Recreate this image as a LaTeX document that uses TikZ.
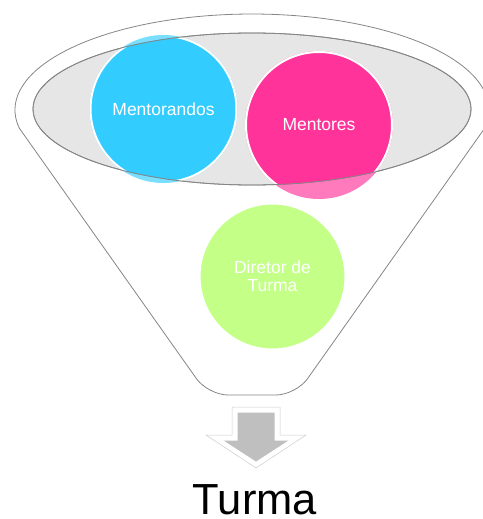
\documentclass[tikz,border=0pt]{standalone}
\usepackage{fontspec}
\setmainfont{Liberation Sans}
\usetikzlibrary{shapes.geometric}
\definecolor{cblue}{HTML}{33CCFF}
\definecolor{cpink}{HTML}{FF3399}
\definecolor{cgreen}{HTML}{C4FF88}
\definecolor{ellfill}{HTML}{E6E6E6}
\definecolor{lineg}{HTML}{858585}
\definecolor{arrowg}{HTML}{BFBFBF}
\definecolor{arrowline}{HTML}{CCCCCC}
\begin{document}
\begin{tikzpicture}[x=1pt,y=-1pt,
  outline/.style={draw=lineg, line width=0.8pt},
  bubble/.style={circle, minimum size=146pt, inner sep=0pt, draw=white, line width=2pt,
    text=white, align=center, font=\fontsize{17.5}{18}\selectfont},
  lightbubble/.style={opacity=0.65}]
\useasboundingbox (0,0) rectangle (482,519);
% funnel outline
\draw[outline] (19.2,128) arc[start angle=190.8, end angle=-10.8, x radius=237pt, y radius=96pt];
\draw[outline, rounded corners=20pt] (19.2,128) -- (208,395) -- (296,395) -- (484.8,128);
% inner ellipse (bowl)
\node[ellipse, minimum width=438pt, minimum height=152pt, inner sep=0pt, fill=ellfill, outline] (bowl) at (252,109) {};
% light parts of circles outside the bowl
\fill[cblue, lightbubble] (163.5,109) circle[radius=74pt];
\fill[cpink, lightbubble] (319,125) circle[radius=74pt];
\begin{scope}
  \clip (252,109) ellipse[x radius=219pt, y radius=76pt];
  \node[bubble, fill=cblue] (mentorandos) at (163.5,109) {Mentorandos};
  \node[bubble, fill=cpink] (mentores) at (319,125) {Mentores};
\end{scope}
\draw[outline] (bowl.center) ellipse[x radius=219pt, y radius=76pt];
% director circle
\node[bubble, fill=cgreen] (diretor) at (272.5,276.5) {Diretor de\\Turma};
% arrow
\draw[fill=white, draw=arrowline, line width=0.5pt] (232,407) -- (280,407) -- (280,435) -- (306,435) -- (256,468) -- (206,435) -- (232,435) -- cycle;
\fill[arrowg] (237.5,412.5) -- (274.5,412.5) -- (274.5,440.5) -- (288.4,440.5) -- (256,461.5) -- (223.6,440.5) -- (237.5,440.5) -- cycle;
% result
\node[font=\fontsize{43.5}{50}\selectfont, anchor=base, inner sep=0pt] (turma) at (255,514.5) {Turma};
\end{tikzpicture}
\end{document}
